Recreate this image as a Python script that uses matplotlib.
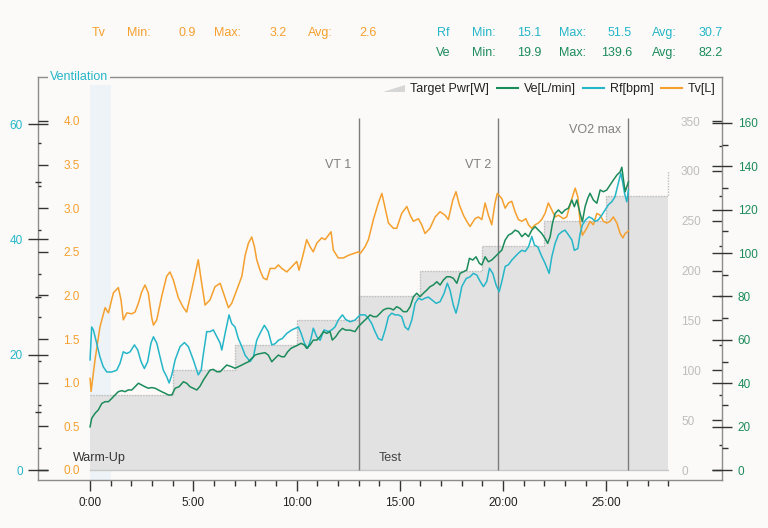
import matplotlib.pyplot as plt
from matplotlib.patches import Polygon, Patch
from matplotlib.lines import Line2D
from matplotlib.legend_handler import HandlerPatch
from matplotlib.ticker import FixedLocator, FormatStrFormatter

plt.rcParams['font.family'] = ['Liberation Sans', 'DejaVu Sans']

BG = '#FBFAF8'
C_TV = '#F5A02E'
C_RF = '#25B6C8'
C_VE = '#1C8B5B'

# time in minutes
TV_T = [0.00, 0.05, 0.24, 0.48, 0.73, 0.89, 1.13, 1.37, 1.50, 1.61, 1.78, 2.02, 2.18, 2.34, 2.50, 2.66, 2.82, 2.99, 3.07, 3.23,
        3.47, 3.71, 3.87, 4.03, 4.28, 4.52, 4.68, 4.92, 5.13, 5.24, 5.38, 5.57, 5.81, 6.05, 6.30, 6.54, 6.70,
        6.86, 7.10, 7.35, 7.51, 7.67, 7.83, 7.96, 8.07, 8.23, 8.39, 8.56, 8.72, 8.96, 9.12, 9.28, 9.53, 9.77, 10.01, 10.12, 10.33,
        10.49, 10.65, 10.81, 10.98, 11.22, 11.38, 11.67, 11.78, 12.02, 12.27, 12.51, 12.75, 12.99,
        13.08, 13.32, 13.48, 13.72, 13.96, 14.13, 14.29, 14.45, 14.69, 14.85, 15.09, 15.34, 15.50, 15.66, 15.90, 16.06, 16.22, 16.46,
        16.71, 16.95, 17.19, 17.35, 17.56, 17.72, 17.88, 18.08, 18.24, 18.40, 18.64, 18.80, 18.97, 19.13, 19.29, 19.45, 19.61, 19.72,
        19.94, 20.10, 20.26, 20.42, 20.58, 20.74, 20.91, 21.10, 21.23, 21.39, 21.55, 21.71, 21.87, 22.03, 22.19, 22.36, 22.52, 22.68,
        22.92, 23.08, 23.33, 23.49, 23.62, 23.73, 23.84, 24.05, 24.21, 24.37, 24.54, 24.70, 24.86, 25.02, 25.18, 25.34, 25.51, 25.67,
        25.80, 25.91, 26.07]
TV_L = [1.05, 0.90, 1.26, 1.64, 1.86, 1.80, 2.03, 2.09, 1.95, 1.72, 1.80, 1.79, 1.81, 1.91, 2.04, 2.12, 2.03, 1.74, 1.66, 1.72,
        1.99, 2.22, 2.27, 2.18, 1.97, 1.86, 1.81, 2.06, 2.29, 2.41, 2.18, 1.89, 1.95, 2.10, 2.14, 1.97, 1.86,
        1.91, 2.06, 2.22, 2.46, 2.60, 2.67, 2.56, 2.41, 2.29, 2.20, 2.18, 2.31, 2.31, 2.35, 2.31, 2.27, 2.33, 2.39, 2.29, 2.48,
        2.64, 2.56, 2.50, 2.60, 2.66, 2.64, 2.73, 2.52, 2.43, 2.43, 2.46, 2.48, 2.50,
        2.48, 2.56, 2.64, 2.87, 3.06, 3.17, 3.00, 2.83, 2.77, 2.77, 2.94, 3.02, 2.92, 2.85, 2.88, 2.81, 2.71, 2.77,
        2.90, 2.96, 2.92, 2.87, 3.09, 3.19, 3.04, 2.92, 2.85, 2.79, 2.88, 2.90, 2.87, 3.06, 2.92, 2.81, 3.06, 3.17,
        3.11, 3.00, 3.06, 3.08, 2.96, 2.87, 2.85, 2.88, 2.81, 2.77, 2.81, 2.83, 2.87, 2.94, 3.06, 2.98, 2.90, 2.92,
        2.88, 2.90, 3.11, 3.23, 3.13, 2.83, 2.69, 2.77, 2.85, 2.81, 2.94, 2.92, 2.85, 2.83, 2.85, 2.90, 2.83, 2.71,
        2.66, 2.71, 2.74]

RF_T = [0.00, 0.08, 0.16, 0.32, 0.48, 0.64, 0.81, 1.05, 1.29, 1.45, 1.61, 1.78, 1.94, 2.15, 2.31, 2.47, 2.63, 2.79, 2.95, 3.07,
        3.23, 3.39, 3.55, 3.71, 3.83, 3.96, 4.12, 4.36, 4.57, 4.76, 5.00, 5.24, 5.38, 5.49, 5.65, 5.81, 5.97, 6.14, 6.30, 6.38,
        6.54, 6.73,
        6.86, 7.02, 7.18, 7.35, 7.51, 7.75, 7.91, 8.07, 8.23, 8.44, 8.63, 8.80, 8.96, 9.12, 9.31, 9.53, 9.77, 9.96, 10.09, 10.22,
        10.38, 10.54, 10.70, 10.81, 10.98, 11.14, 11.33, 11.54, 11.70, 11.86, 12.02, 12.22, 12.38, 12.59, 12.83,
        13.08, 13.32, 13.48, 13.64, 13.80, 13.96, 14.13, 14.29, 14.45, 14.61, 14.77, 14.93, 15.09, 15.25, 15.41, 15.58, 15.74, 15.90,
        16.06, 16.22, 16.38, 16.55, 16.76, 16.95, 17.14, 17.30, 17.43, 17.59, 17.72, 17.84, 18.00, 18.21, 18.40, 18.56, 18.73, 18.89,
        19.05, 19.21, 19.34, 19.50, 19.66,
        19.81, 19.94, 20.10, 20.26, 20.42, 20.58, 20.74, 20.91, 21.07, 21.23, 21.39, 21.52, 21.68, 21.84, 22.00, 22.13, 22.23, 22.36,
        22.52, 22.68, 22.84, 23.00, 23.16, 23.33, 23.45, 23.62, 23.73, 23.84, 24.00, 24.16, 24.32, 24.46, 24.62, 24.78, 24.94, 25.10,
        25.26, 25.42, 25.58, 25.70, 25.80, 25.88, 25.99, 26.07]
RF_BPM = [19.1, 24.8, 24.3, 22.0, 19.6, 17.9, 17.0, 17.0, 17.3, 18.5, 20.5, 20.2, 20.5, 21.7, 20.8, 18.8, 17.6, 18.8, 22.0, 23.1,
          22.0, 19.6, 17.3, 16.2, 15.1, 16.5, 19.1, 21.4, 22.1, 21.4, 19.1, 16.5, 17.3, 20.2, 24.0, 24.0, 24.3, 23.1, 22.0, 20.8,
          23.7, 26.9,
          25.4, 24.8, 22.8, 21.4, 19.9, 18.8, 19.6, 22.5, 23.7, 25.1, 24.0, 21.7, 21.9, 22.5, 22.8, 23.7, 24.3, 24.6, 24.8, 23.7,
          22.0, 21.1, 22.8, 24.6, 23.1, 22.5, 24.3, 24.0, 24.3, 24.8, 26.0, 26.9, 26.1, 25.7, 26.0,
          26.9, 26.9, 26.3, 25.4, 24.0, 22.8, 22.5, 24.3, 26.6, 27.2, 26.9, 26.9, 26.6, 24.8, 24.3, 26.0, 28.9, 29.8,
          29.5, 29.8, 30.0, 29.5, 28.9, 29.2, 30.6, 32.4, 31.2, 28.6, 27.2, 28.9, 31.8, 33.2, 33.5, 34.1, 33.8, 32.7,
          31.8, 32.7, 35.0, 34.1, 32.1,
          30.9, 32.7, 35.3, 35.6, 36.4, 37.0, 37.6, 38.1, 37.9, 38.7, 40.5, 39.0, 38.7, 37.3, 36.1, 35.0, 34.1, 37.0,
          39.3, 40.8, 41.3, 41.6, 40.8, 39.9, 38.1, 38.4, 41.0, 42.5, 43.4, 43.9, 43.6, 43.1, 43.4, 44.2, 45.1, 46.0,
          46.5, 47.4, 49.7, 51.5, 49.7, 48.0, 46.5, 48.6]

VE_T = [0.00, 0.08, 0.24, 0.40, 0.57, 0.73, 0.89, 1.05, 1.21, 1.37, 1.54, 1.69, 1.85, 2.02, 2.18, 2.34, 2.50, 2.66, 2.82, 2.99,
        3.15, 3.31, 3.47, 3.63, 3.79, 3.96, 4.12, 4.31, 4.52, 4.68, 4.84, 5.00, 5.17, 5.33, 5.49, 5.65, 5.81, 5.97, 6.14, 6.30,
        6.46, 6.62,
        6.86, 7.02, 7.18, 7.35, 7.51, 7.67, 7.83, 7.99, 8.15, 8.31, 8.47, 8.63, 8.80, 8.96, 9.12, 9.28, 9.41, 9.57, 9.73, 9.89,
        10.06, 10.22, 10.38, 10.49, 10.65, 10.81, 10.98, 11.14, 11.30, 11.46, 11.62, 11.73, 11.90, 12.06, 12.22, 12.38, 12.59, 12.83,
        12.99,
        13.23, 13.40, 13.56, 13.72, 13.88, 14.04, 14.20, 14.37, 14.53, 14.69, 14.85, 15.01, 15.17, 15.34, 15.50, 15.66, 15.82, 15.98,
        16.14, 16.31, 16.46, 16.62, 16.79, 16.95, 17.11, 17.27, 17.43, 17.59, 17.76, 17.92, 18.08, 18.24, 18.37, 18.53, 18.69, 18.85,
        18.97, 19.13, 19.29, 19.45, 19.61, 19.70,
        19.94, 20.10, 20.26, 20.42, 20.58, 20.74, 20.91, 21.07, 21.23, 21.39, 21.55, 21.71, 21.87, 22.03, 22.16, 22.28, 22.39, 22.52,
        22.68, 22.84, 23.00, 23.16, 23.33, 23.45, 23.57, 23.73, 23.84, 23.97, 24.10, 24.21, 24.37, 24.54, 24.70, 24.86, 25.02, 25.18,
        25.34, 25.51, 25.67, 25.75, 25.83, 25.91, 25.99, 26.07]
VE_L = [19.9, 23.8, 26.1, 27.7, 30.7, 31.5, 31.5, 33.0, 34.6, 36.1, 36.6, 36.1, 36.9, 36.9, 38.4, 40.0, 39.2, 38.4, 37.7, 38.0,
        37.7, 36.9, 36.1, 35.4, 34.6, 34.6, 37.7, 38.4, 40.7, 40.0, 38.4, 37.7, 36.9, 38.7, 41.5, 43.8, 46.1, 46.4, 45.3, 45.3,
        46.9, 48.4,
        47.6, 46.9, 47.6, 48.4, 49.2, 49.9, 51.5, 53.0, 53.5, 53.8, 54.1, 53.0, 49.9, 51.5, 53.0, 52.2, 52.2, 54.5, 56.1, 56.8,
        57.6, 58.4, 57.6, 56.1, 57.6, 59.9, 59.9, 61.5, 63.8, 63.0, 63.8, 59.9, 61.5, 63.8, 65.3, 64.5, 64.5, 63.8,
        66.1,
        68.4, 69.9, 71.5, 70.7, 70.7, 72.2, 73.8, 74.5, 74.5, 73.8, 75.3, 74.5, 73.0, 73.0, 75.3, 79.9, 81.5, 79.9,
        81.5, 83.0, 84.5, 85.3, 86.8, 85.3, 87.6, 89.1, 89.1, 88.4, 86.1, 90.7, 91.4, 92.2, 97.6, 96.8, 98.3, 95.3,
        94.5, 98.3, 96.0, 96.8, 98.3, 99.1,
        101.4, 106.0, 108.3, 109.1, 110.6, 109.9, 107.6, 109.1, 107.6, 110.6, 112.2, 110.6, 109.1, 106.8, 104.5, 107.6, 113.7, 118.3,
        119.9, 118.3, 119.9, 120.7, 124.5, 121.4, 124.5, 118.3, 114.5, 121.4, 125.3, 127.6, 124.5, 123.0, 129.1, 128.3, 129.1, 131.4,
        133.7, 136.0, 137.5, 139.6, 133.7, 128.3, 130.6, 132.9]

# target power steps
PWR_T = [0, 4, 7, 10, 13, 16, 19, 22, 25, 28]
PWR_W = [75, 100, 125, 150, 175, 200, 225, 250, 275, 300]

# thresholds
THR_T = [13.0, 19.76, 26.03]
THR_LBL = ['VT 1', 'VT 2', 'VO2 max']
THR_Y = [306, 306, 341]

# header stats (min, max, avg)
TV_STATS = ['0.9', '3.2', '2.6']
RF_STATS = ['15.1', '51.5', '30.7']
VE_STATS = ['19.9', '139.6', '82.2']

X_TICKS = [0, 5, 10, 15, 20, 25]
X_LABELS = ['0:00', '5:00', '10:00', '15:00', '20:00', '25:00']

W, H = 768, 528
fig = plt.figure(figsize=(W / 100, H / 100), dpi=100, facecolor=BG)
rect = [38 / W, 48 / H, 684 / W, 403 / H]
ax_pw = fig.add_axes(rect)
ax_pw.set_facecolor(BG)
ax_tv = ax_pw.twinx()
ax_rf = ax_pw.twinx()
ax_ve = ax_pw.twinx()

ax_pw.set_xlim(-2.52, 30.6)
ax_pw.set_ylim(-10.03, 394.2)
ax_tv.set_ylim(-0.115, 4.504)
ax_rf.set_ylim(-1.73, 68.15)
ax_ve.set_ylim(-4.61, 181.2)

# background elements on the power axis
ax_pw.axvspan(0, 1, ymin=0, ymax=0.98, color='#EDF3F7', lw=0, zorder=0)
ax_pw.fill_between(PWR_T, PWR_W, step='post', color='#E2E2E2', lw=0, zorder=1)
ax_pw.step(PWR_T, PWR_W, where='post', color='#BDBDBD', lw=1, ls=(0, (1, 1)), zorder=1.5)
ax_pw.axhline(0, xmin=(0 + 2.52) / 33.12, xmax=(28 + 2.52) / 33.12, color='#C8C8C8', lw=1, zorder=1.5)
ax_pw.vlines(THR_T, 0, 353, colors='#7C7C7C', lw=1, zorder=2)
for t, lbl, yv in zip(THR_T, THR_LBL, THR_Y):
    ax_pw.annotate(lbl, xy=(t, yv), xytext=(-5, 0), textcoords='offset points',
                   ha='right', va='center', color='#808080', fontsize=9)
ax_pw.text(-0.81, 12, 'Warm-Up', ha='left', va='center', color='#333333', fontsize=9)
ax_pw.text(14.0, 12, 'Test', ha='left', va='center', color='#444444', fontsize=9)

# series
ax_tv.plot(TV_T, TV_L, color=C_TV, lw=1.1)
ax_rf.plot(RF_T, RF_BPM, color=C_RF, lw=1.1)
ax_ve.plot(VE_T, VE_L, color=C_VE, lw=1.1)

# spines
for s in ax_pw.spines.values():
    s.set_color('#8C8C8C')
    s.set_linewidth(1)
for a in (ax_tv, ax_rf, ax_ve):
    for s in a.spines.values():
        s.set_visible(False)

# x axis
ax_pw.set_xticks(X_TICKS)
ax_pw.set_xticklabels(X_LABELS)
ax_pw.xaxis.set_minor_locator(FixedLocator([m for m in range(29) if m % 5]))
ax_pw.tick_params(axis='x', which='major', direction='out', length=8, width=1, color='#333333',
                  labelsize=8.5, labelcolor='#222222', pad=4.3)
ax_pw.tick_params(axis='x', which='minor', direction='out', length=4.5, width=1, color='#333333')

# power axis: right, labels inside
ax_pw.yaxis.tick_right()
ax_pw.set_yticks(range(0, 351, 50))
ax_pw.yaxis.set_minor_locator(FixedLocator(range(25, 350, 50)))
ax_pw.tick_params(axis='y', which='major', direction='in', length=7.2, width=1, color='#333333',
                  labelsize=8.5, labelcolor='#BDBDBD', pad=-29.5)
ax_pw.tick_params(axis='y', which='minor', direction='in', length=2.5, width=1, color='#333333')

# tidal volume axis: left, labels inside
ax_tv.yaxis.tick_left()
ax_tv.set_yticks([i * 0.5 for i in range(9)])
ax_tv.yaxis.set_major_formatter(FormatStrFormatter('%.1f'))
ax_tv.yaxis.set_minor_locator(FixedLocator([0.25 + i * 0.5 for i in range(8)]))
ax_tv.tick_params(axis='y', which='major', direction='in', length=7.2, width=1, color='#333333',
                  labelsize=8.5, labelcolor=C_TV, pad=-30.2)
ax_tv.tick_params(axis='y', which='minor', direction='in', length=2.5, width=1, color='#333333')

# resp. frequency axis: left, labels outside
ax_rf.yaxis.tick_left()
ax_rf.set_yticks([0, 20, 40, 60])
ax_rf.yaxis.set_minor_locator(FixedLocator([10, 30, 50]))
ax_rf.tick_params(axis='y', which='major', direction='inout', length=13.7, width=1, color='#333333',
                  labelsize=8.5, labelcolor=C_RF, pad=4.2)
ax_rf.tick_params(axis='y', which='minor', direction='inout', length=4, width=1, color='#333333')

# ventilation axis: right, labels outside
ax_ve.yaxis.tick_right()
ax_ve.set_yticks(range(0, 161, 20))
ax_ve.yaxis.set_minor_locator(FixedLocator(range(10, 160, 20)))
ax_ve.tick_params(axis='y', which='major', direction='inout', length=14.4, width=1, color='#333333',
                  labelsize=8.5, labelcolor=C_VE, pad=4.1)
ax_ve.tick_params(axis='y', which='minor', direction='out', length=4, width=1, color='#333333')


def make_wedge(legend, orig_handle, xdescent, ydescent, width, height, fontsize):
    return Polygon([[-xdescent, -ydescent], [width - xdescent, -ydescent],
                    [width - xdescent, height * 0.8 - ydescent]], closed=True)


handles = [Patch(facecolor='#D6D6D6', edgecolor='none', label='Target Pwr[W]'),
           Line2D([], [], color=C_VE, lw=1.5, label='Ve[L/min]'),
           Line2D([], [], color=C_RF, lw=1.5, label='Rf[bpm]'),
           Line2D([], [], color=C_TV, lw=1.5, label='Tv[L]')]
leg = ax_ve.legend(handles=handles, loc='upper right', bbox_to_anchor=(1.0, 1.0), ncol=4, frameon=False,
                   fontsize=9, handlelength=1.7, handletextpad=0.45, columnspacing=0.6,
                   borderaxespad=0.3, borderpad=0.2,
                   handler_map={Patch: HandlerPatch(patch_func=make_wedge)})
for txt in leg.get_texts():
    txt.set_color('#222222')

# axis title breaking the top frame
fig.text(50 / W, 1 - 77 / H, 'Ventilation', color=C_RF, fontsize=9, ha='left', va='center',
         bbox=dict(facecolor=BG, edgecolor='none', pad=1.5))


# header statistics
def fx(px):
    return px / W


def fy(py):
    return 1 - py / H


def stat_row(y, name, vals, color, name_x, name_ha, xs):
    fig.text(fx(name_x), fy(y), name, color=color, fontsize=9, ha=name_ha, va='center')
    for (lx, vx), key, v in zip(xs, ['Min:', 'Max:', 'Avg:'], vals):
        fig.text(fx(lx), fy(y), key, color=color, fontsize=9, ha='left', va='center')
        fig.text(fx(vx), fy(y), v, color=color, fontsize=9, ha='right', va='center')


stat_row(33, 'Tv', TV_STATS, C_TV, 92, 'left', [(126.5, 196), (214, 287), (308, 377)])
stat_row(33, 'Rf', RF_STATS, C_RF, 450, 'right', [(472, 541), (559, 632), (652, 722.5)])
stat_row(53, 'Ve', VE_STATS, C_VE, 450, 'right', [(472, 541), (559, 632), (652, 722.5)])

fig.savefig('out.png', dpi=100, facecolor=BG)
